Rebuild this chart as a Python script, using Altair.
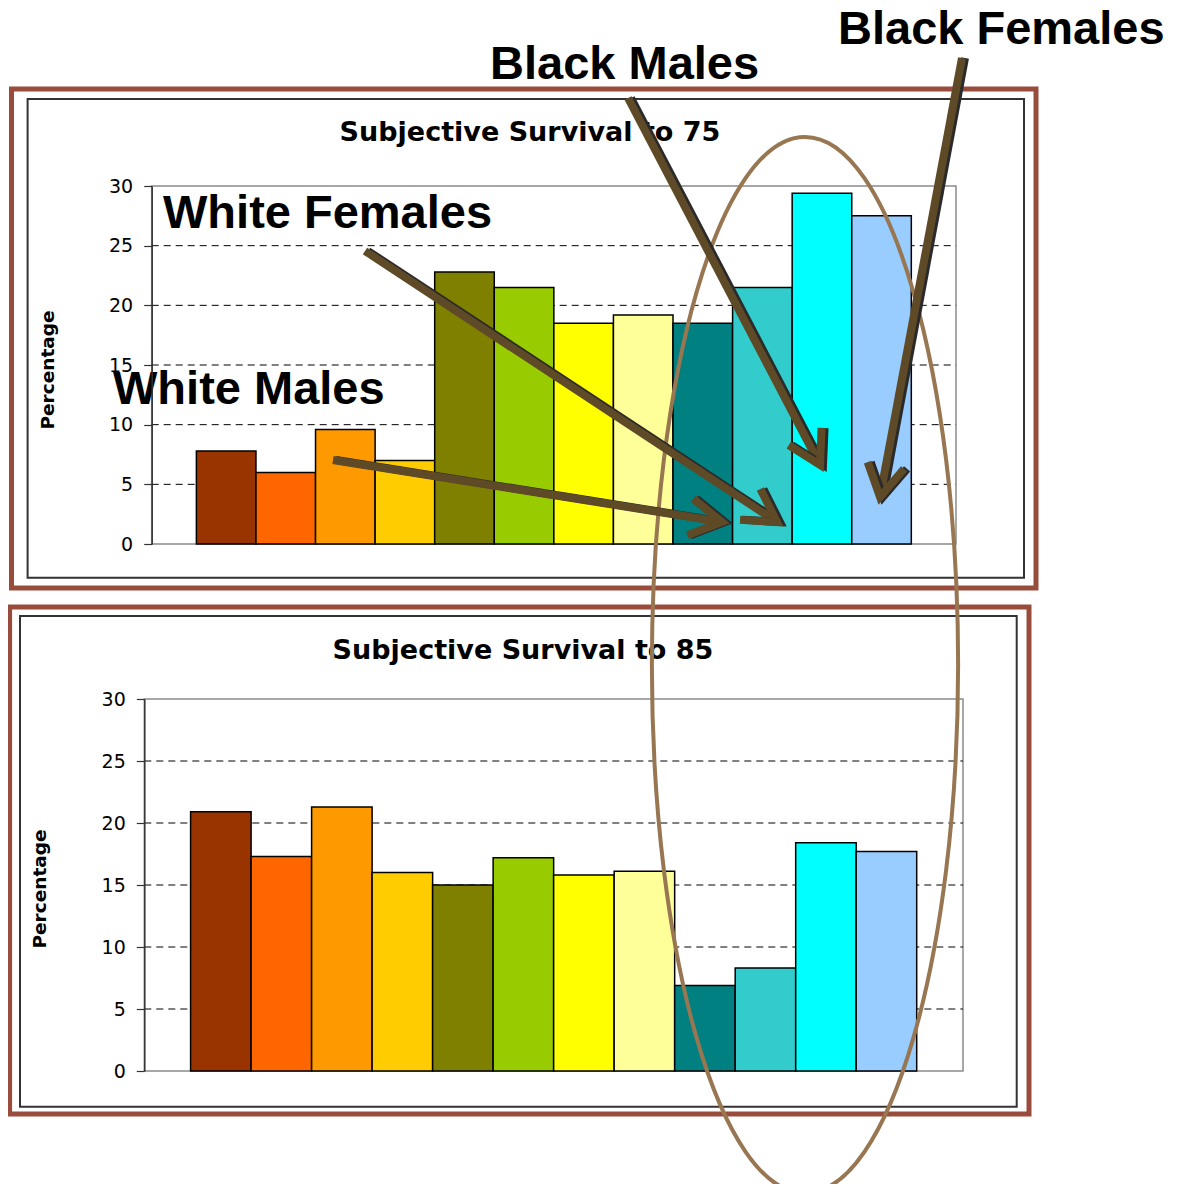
import math
import altair as alt
import pandas as pd

# ---------------- data ----------------
categories = ["1", "2", "3", "4", "5", "6", "7", "8", "9", "10", "11", "12"]
bar_colors = ["#993300", "#FF6600", "#FF9900", "#FFCC00", "#808000", "#99CC00",
              "#FFFF00", "#FFFF99", "#008080", "#33CCCC", "#00FFFF", "#99CCFF"]
survival_to_75 = [7.8, 6.0, 9.6, 7.0, 22.8, 21.5, 18.5, 19.2, 18.5, 21.5, 29.4, 27.5]
survival_to_85 = [20.9, 17.3, 21.3, 16.0, 15.0, 17.2, 15.8, 16.1, 6.9, 8.3, 18.4, 17.7]
y_tick_values = [0, 5, 10, 15, 20, 25, 30]
grid_values = [5, 10, 15, 20, 25]
panel_titles = ["Subjective Survival to 75", "Subjective Survival to 85"]
y_title = "Percentage"
annotation_labels = ["White Males", "White Females", "Black Males", "Black Females"]

# ---------------- layout (chart pixels; page = chart + 8) ----------------
BROWN = "#9A4C3C"
ARROW = "#5E4A26"
SHADOW = "#2A2A2A"
ELLIPSE = "#977651"


def panel(values, x_range, y_range, pad):
    df = pd.DataFrame({"cat": categories, "value": values, "color": bar_colors})
    y_axis = alt.Axis(values=y_tick_values, orient="left", offset=-x_range[0], title=None,
                      grid=False, tickSize=8, labelPadding=11, labelFont="DejaVu Sans",
                      labelFontSize=19, labelColor="black", domainColor="#333333",
                      tickColor="#333333", domainWidth=1.5, tickWidth=1.2, zindex=2)
    y_scale = alt.Scale(domain=[0, 30], range=y_range, nice=False, zero=True)
    x_scale = alt.Scale(range=x_range, paddingInner=0, paddingOuter=pad)
    border = alt.Chart(pd.DataFrame({"value": [30], "base": [0]})).mark_rect(
        fillOpacity=0, stroke="#8A8A8A", strokeWidth=1.5
    ).encode(
        x=alt.value(x_range[0]), x2=alt.value(x_range[1]),
        y=alt.Y("value:Q", scale=y_scale, axis=y_axis), y2="base:Q"
    )
    grid = alt.Chart(pd.DataFrame({"value": grid_values})).mark_rule(
        color="black", strokeDash=[7, 5], strokeWidth=1
    ).encode(
        y=alt.Y("value:Q", scale=y_scale, axis=y_axis),
        x=alt.value(x_range[0]), x2=alt.value(x_range[1])
    )
    bars = alt.Chart(df).mark_bar(stroke="black", strokeWidth=1.5).encode(
        x=alt.X("cat:N", sort=categories, scale=x_scale, axis=None),
        y=alt.Y("value:Q", scale=y_scale, axis=y_axis),
        color=alt.Color("color:N", scale=None),
    )
    return alt.layer(border, grid, bars)


top_panel = panel(survival_to_75, [143.7, 948], [536, 178], 0.75)
bottom_panel = panel(survival_to_85, [136.3, 955], [1063, 691], 0.765)

# frames
frames_df = pd.DataFrame({
    "x": [3.5, 19.6, 1.6, 12.0], "x2": [1028, 1016, 1021, 1008.7],
    "y": [81, 91, 599, 608], "y2": [580, 569.7, 1106, 1098.7],
    "stroke": [BROWN, "#333333", BROWN, "#333333"], "sw": [5, 2, 5, 2],
})
frames = alt.Chart(frames_df).mark_rect(fillOpacity=0).encode(
    x=alt.X("x:Q", scale=None), x2="x2:Q", y=alt.Y("y:Q", scale=None), y2="y2:Q",
    stroke=alt.Stroke("stroke:N", scale=None), strokeWidth=alt.StrokeWidth("sw:Q", scale=None),
)

titles_df = pd.DataFrame({"text": panel_titles, "x": [522, 515], "y": [133, 651]})
titles = alt.Chart(titles_df).mark_text(
    font="DejaVu Sans", fontWeight="bold", fontSize=27, align="center", baseline="alphabetic",
    color="black"
).encode(x=alt.X("x:Q", scale=None), y=alt.Y("y:Q", scale=None), text="text:N")

ylab_df = pd.DataFrame({"text": [y_title, y_title], "x": [39.5, 32], "y": [362, 881]})
ylabels = alt.Chart(ylab_df).mark_text(
    font="DejaVu Sans", fontWeight="bold", fontSize=18.5, angle=270, align="center",
    baseline="middle", color="black"
).encode(x=alt.X("x:Q", scale=None), y=alt.Y("y:Q", scale=None), text="text:N")

# ellipse (custom symbol path, scaled by sqrt(size)/2)
ellipse_path = "M 0 -1 A 0.29 1 0 0 1 0 1 A 0.29 1 0 0 1 0 -1 Z"
ellipse = alt.Chart(pd.DataFrame({"x": [797], "y": [657]})).mark_point(
    shape=ellipse_path, size=1056 ** 2, filled=False, stroke=ELLIPSE, strokeWidth=4, opacity=1
).encode(x=alt.X("x:Q", scale=None), y=alt.Y("y:Q", scale=None))

# arrows: start and tip (chart px)
arrow_x0 = [325, 357, 620, 954]
arrow_y0 = [452, 243, 90, 50]
arrow_x1 = [714, 769, 812, 872]
arrow_y1 = [514, 514, 457, 489]
rows = []
for lab, x0, y0, x1, y1 in zip(annotation_labels, arrow_x0, arrow_y0, arrow_x1, arrow_y1):
    dx, dy = x1 - x0, y1 - y0
    L = math.hypot(dx, dy)
    ux, uy = dx / L, dy / L
    ang = (math.degrees(math.atan2(dy, dx)) + 360) % 360
    rows.append({"label": lab, "x0": x0, "y0": y0, "xe": x1 - 5 * ux, "ye": y1 - 5 * uy,
                 "xt": x1, "yt": y1, "ang": ang,
                 "sx0": x0 + 3, "sxe": x1 - 5 * ux + 3, "sxt": x1 + 3})
arrows_df = pd.DataFrame(rows)

shaft_shadow = alt.Chart(arrows_df).mark_rule(color=SHADOW, strokeWidth=8, strokeCap="butt").encode(
    x=alt.X("sx0:Q", scale=None), y=alt.Y("y0:Q", scale=None), x2="sxe:Q", y2="ye:Q")
shafts = alt.Chart(arrows_df).mark_rule(color=ARROW, strokeWidth=8, strokeCap="butt").encode(
    x=alt.X("x0:Q", scale=None), y=alt.Y("y0:Q", scale=None), x2="xe:Q", y2="ye:Q")
chevron = "M -0.866 -0.5 L 0 0 L -0.866 0.5"
head_shadow = alt.Chart(arrows_df).mark_point(
    shape=chevron, size=74 ** 2, filled=False, stroke=SHADOW, strokeWidth=8, opacity=1,
    strokeJoin="miter"
).encode(x=alt.X("sxt:Q", scale=None), y=alt.Y("yt:Q", scale=None),
         angle=alt.Angle("ang:Q", scale=None))
heads = alt.Chart(arrows_df).mark_point(
    shape=chevron, size=74 ** 2, filled=False, stroke=ARROW, strokeWidth=8, opacity=1,
    strokeJoin="miter"
).encode(x=alt.X("xt:Q", scale=None), y=alt.Y("yt:Q", scale=None),
         angle=alt.Angle("ang:Q", scale=None))

notes_df = pd.DataFrame({"text": annotation_labels, "x": [105, 155, 482, 830],
                         "y": [396, 220, 71, 36]})
notes = alt.Chart(notes_df).mark_text(
    font="Liberation Sans", fontWeight="bold", fontSize=47, align="left",
    baseline="alphabetic", color="black"
).encode(x=alt.X("x:Q", scale=None), y=alt.Y("y:Q", scale=None), text="text:N")

chart = alt.layer(
    frames, titles, ylabels, top_panel, bottom_panel, ellipse,
    shaft_shadow, shafts, head_shadow, heads, notes
).resolve_scale(x="independent", y="independent").properties(
    width=1162, height=1176, autosize=alt.AutoSizeParams(type="none"), padding=0
).configure_view(strokeWidth=0)

chart.save("out.html", embed_options={"renderer": "svg", "actions": False})
